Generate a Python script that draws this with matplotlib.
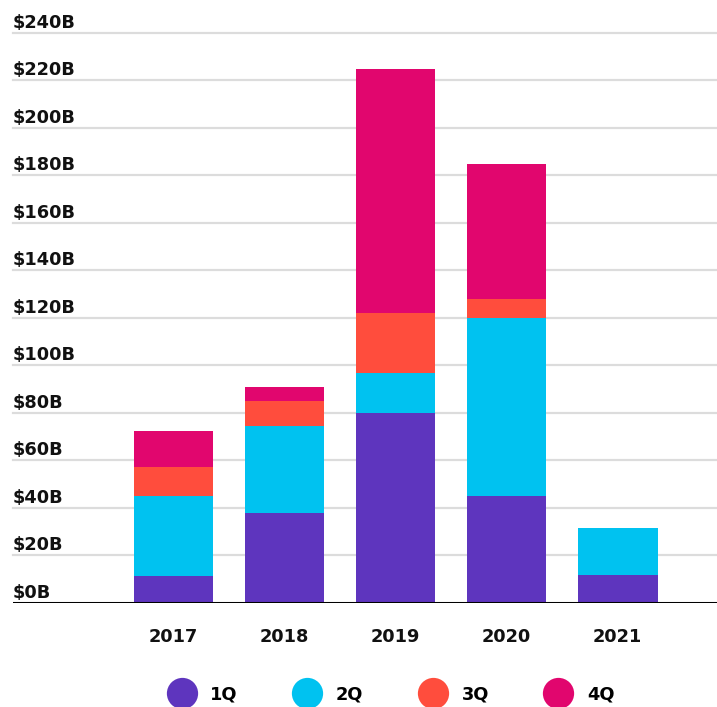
import numpy as np
import matplotlib
matplotlib.use("Agg")
import matplotlib.pyplot as plt
from matplotlib.lines import Line2D
import matplotlib.transforms as mtransforms

years = ["2017", "2018", "2019", "2020", "2021"]
q1 = [11.2, 37.7, 80.0, 45.1, 11.5]
q2 = [33.9, 36.9, 16.9, 74.7, 20.1]
q3 = [12.1, 10.2, 25.0, 8.3, 0.0]
q4 = [15.0, 5.9, 102.9, 56.8, 0.0]
quarters = ["1Q", "2Q", "3Q", "4Q"]
y_ticks = [0, 20, 40, 60, 80, 100, 120, 140, 160, 180, 200, 220, 240]

COLORS = ["#5E35BE", "#00C2F0", "#FF4D3D", "#E1066E"]
FONT = "DejaVu Sans"
FS = 12.8

W, H = 717, 707
fig = plt.figure(figsize=(W / 100, H / 100), dpi=100)
ax = fig.add_axes([13 / W, (H - 602.7) / H, 1 - 13 / W, (602.7 - 33) / H])

x = np.arange(len(years))
bottom = np.zeros(len(years))
for vals, col in zip([q1, q2, q3, q4], COLORS):
    vals = np.array(vals)
    ax.bar(x, vals, width=0.72, bottom=bottom, color=col, zorder=3,
           edgecolor="none")
    bottom += vals

ax.set_xlim(-1.446, 4.896)
ax.set_ylim(0, 240)

# gridlines + labels sitting above them
for v in y_ticks[1:]:
    ax.axhline(v, color="#dcdcdc", lw=1.6, zorder=1, clip_on=False)
ax.axhline(0, color="black", lw=2.2, zorder=4)
trans = mtransforms.blended_transform_factory(ax.transAxes, ax.transData)
off = mtransforms.offset_copy(trans, fig=fig, x=0, y=5, units="dots")
for v in y_ticks:
    ax.text(0, v, f"${v}B", transform=off, ha="left", va="baseline",
            fontsize=FS, fontweight="bold", family=FONT, color="#111111")

ax.set_xticks(x)
ax.set_xticklabels(years, fontsize=FS, fontweight="bold", family=FONT,
                   color="#111111")
ax.tick_params(axis="x", length=0, pad=18)
ax.set_yticks([])
for s in ax.spines.values():
    s.set_visible(False)

handles = [Line2D([], [], ls="none", marker="o", markersize=22.5,
                  markerfacecolor=c, markeredgecolor="none") for c in COLORS]
fig.legend(handles, quarters, loc="center", bbox_to_anchor=(391 / W, 12.5 / H),
           ncol=4, frameon=False, handlelength=1.6, handletextpad=0.82,
           columnspacing=3.1, borderaxespad=0, borderpad=0,
           prop={"family": FONT, "weight": "bold", "size": FS})

fig.savefig("out.png", dpi=100)
